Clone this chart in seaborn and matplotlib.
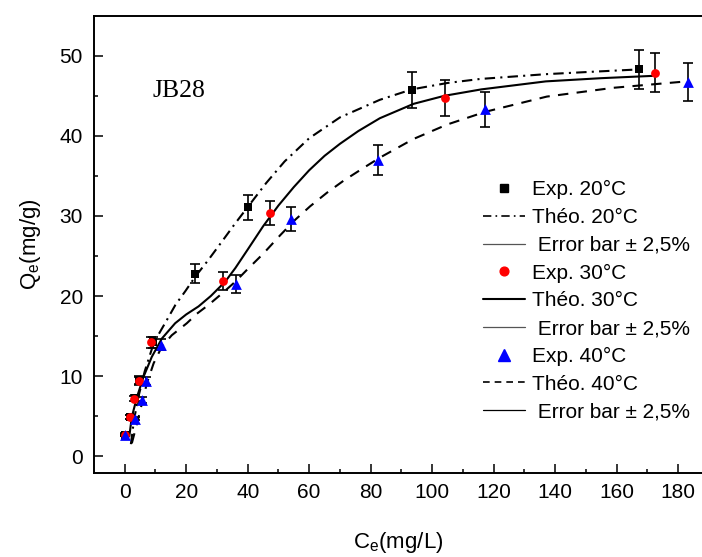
import numpy as np
import pandas as pd
import matplotlib
matplotlib.use("Agg")
import matplotlib.pyplot as plt
from matplotlib.lines import Line2D
import seaborn as sns

# ---- experimental isotherm points (Ce in mg/L, Qe in mg/g) ----
ce_20 = [0.0, 1.8, 3.2, 4.8, 9.3, 23.0, 40.0, 93.3, 167.3]
qe_20 = [2.6, 4.9, 7.3, 9.5, 14.2, 22.8, 31.1, 45.7, 48.3]

ce_30 = [0.0, 1.6, 3.0, 4.6, 8.7, 32.1, 47.1, 104.2, 172.5]
qe_30 = [2.6, 4.9, 7.2, 9.4, 14.2, 21.9, 30.4, 44.7, 47.9]

ce_40 = [0.0, 3.4, 5.6, 6.8, 11.9, 36.2, 54.1, 82.4, 117.3, 183.3]
qe_40 = [2.7, 4.7, 7.0, 9.4, 13.9, 21.5, 29.6, 37.0, 43.3, 46.7]

# relative error shown by the error bars
err_frac = 0.05

# ---- model curves ----
theo_ce_20 = [2.0, 3.0, 4.5, 6.5, 9.0, 11.0, 13.7, 16.5, 19.7, 22.9, 27.0, 32.0,
              36.0, 40.0, 46.0, 52.0, 60.0, 70.0, 83.0, 93.4, 105.0, 115.6,
              137.0, 152.0, 167.6]
theo_qe_20 = [1.5, 4.5, 7.5, 10.6, 13.6, 15.2, 17.0, 18.9, 20.6, 22.4, 24.4, 27.0,
              29.1, 31.1, 34.1, 36.8, 39.7, 42.3, 44.5, 45.8, 46.6, 47.1,
              47.7, 48.0, 48.3]

theo_ce_30 = [1.5, 2.3, 4.0, 6.1, 8.8, 12.1, 16.4, 20.0, 24.0, 28.0, 32.7, 36.0,
              40.0, 45.0, 50.0, 55.0, 60.0, 65.0, 70.0, 76.0, 83.0, 94.0, 104.0,
              116.0, 137.0, 155.0, 172.5]
theo_qe_30 = [2.5, 4.9, 7.4, 9.9, 12.4, 14.7, 16.6, 17.7, 18.7, 20.0, 21.8, 23.5,
              25.8, 28.7, 31.3, 33.6, 35.7, 37.5, 39.0, 40.6, 42.2, 44.0, 45.0,
              45.8, 46.8, 47.2, 47.5]

theo_ce_40 = [2.3, 4.0, 5.6, 7.2, 9.4, 12.1, 15.3, 20.2, 23.5, 27.3, 31.6, 36.0,
              39.7, 45.1, 50.6, 55.4, 60.3, 65.8, 71.2, 77.7, 83.1, 93.9,
              104.8, 117.3, 137.3, 159.0, 182.8]
theo_qe_40 = [1.6, 4.1, 6.6, 9.1, 11.6, 13.7, 15.1, 16.6, 17.8, 18.9, 20.3, 21.8,
              23.25, 25.3, 27.6, 29.5, 31.2, 32.9, 34.4, 36.0, 37.3, 39.6,
              41.4, 43.0, 44.9, 46.0, 46.8]

x_ticks = [0, 20, 40, 60, 80, 100, 120, 140, 160, 180]
y_ticks = [0, 10, 20, 30, 40, 50]

sns.set_theme(style="ticks")
plt.rcParams["font.family"] = ["Liberation Sans", "DejaVu Sans"]
plt.rcParams["mathtext.default"] = "regular"
plt.rcParams["text.color"] = "black"
plt.rcParams["axes.labelcolor"] = "black"
plt.rcParams["xtick.color"] = "black"
plt.rcParams["ytick.color"] = "black"

fig = plt.figure(figsize=(7.02, 5.57), dpi=100)
ax = fig.add_axes([94 / 702, 0.1508, 1 - 94 / 702, 0.821])

lw = 1.5
sns.lineplot(x=theo_ce_20, y=theo_qe_20, sort=False, estimator=None, ax=ax,
             color="black", lw=lw, linestyle=(0, (5, 2.5, 1, 2.5)))
sns.lineplot(x=theo_ce_30, y=theo_qe_30, sort=False, estimator=None, ax=ax,
             color="black", lw=lw, linestyle="-")
sns.lineplot(x=theo_ce_40, y=theo_qe_40, sort=False, estimator=None, ax=ax,
             color="black", lw=lw, linestyle=(0, (5, 4)))

series = [
    (ce_20, qe_20, "s", "black", 28),
    (ce_30, qe_30, "o", "red", 40),
    (ce_40, qe_40, "^", "blue", 60),
]
for ce, qe, mk, col, size in series:
    qe_arr = np.asarray(qe)
    ax.errorbar(ce, qe, yerr=err_frac * qe_arr, fmt="none", ecolor="black",
                elinewidth=1.2, capsize=3.5, capthick=1.2, zorder=3)
    sns.scatterplot(x=ce, y=qe, marker=mk, color=col, s=size, linewidth=0,
                    ax=ax, zorder=4)

ax.set_xlim(-10, 187.8)
ax.set_ylim(-2.1, 55)
ax.set_xticks(x_ticks)
ax.set_yticks(y_ticks)
ax.set_xticks(np.arange(10, 190, 20), minor=True)
ax.set_yticks(np.arange(5, 55, 10), minor=True)
ax.tick_params(which="major", direction="in", length=6.5, width=1.1,
               labelsize=15, pad=7, color="black", labelcolor="black")
ax.tick_params(which="minor", direction="in", length=3, width=1.1, color="black")
ax.tick_params(axis="y", pad=8)
for side in ["left", "bottom", "top"]:
    ax.spines[side].set_linewidth(1.4)
    ax.spines[side].set_color("black")
ax.spines["right"].set_visible(False)

ax.set_xlabel(r"$C_e$(mg/L)", fontsize=16, labelpad=20)
ax.set_ylabel(r"$Q_e$(mg/g)", fontsize=16, labelpad=12)

ax.text(8.9, 44.8, "JB28", family=["Liberation Serif", "DejaVu Serif"],
        fontsize=18.5, ha="left", va="baseline")

handles = [
    Line2D([], [], marker="s", color="black", ls="none", markersize=5.3),
    Line2D([], [], color="black", lw=1.2, ls=(0, (5, 2.5, 1, 2.5))),
    Line2D([], [], color="#555555", lw=0.9),
    Line2D([], [], marker="o", color="red", ls="none", markersize=6.3),
    Line2D([], [], color="black", lw=1.5),
    Line2D([], [], color="#555555", lw=0.9),
    Line2D([], [], marker="^", color="blue", ls="none", markersize=8.5),
    Line2D([], [], color="black", lw=1.2, ls=(0, (4, 3))),
    Line2D([], [], color="black", lw=0.9),
]
labels = ["Exp. 20°C", "Théo. 20°C", " Error bar ± 2,5%",
          "Exp. 30°C", "Théo. 30°C", " Error bar ± 2,5%",
          "Exp. 40°C", "Théo. 40°C", " Error bar ± 2,5%"]
ax.legend(handles, labels, frameon=False, fontsize=15, loc="upper left",
          bbox_to_anchor=(0.64, 0.64), handlelength=2.0, handletextpad=0.35,
          labelspacing=0.42, borderpad=0, borderaxespad=0)

fig.savefig("out.png", dpi=100)
